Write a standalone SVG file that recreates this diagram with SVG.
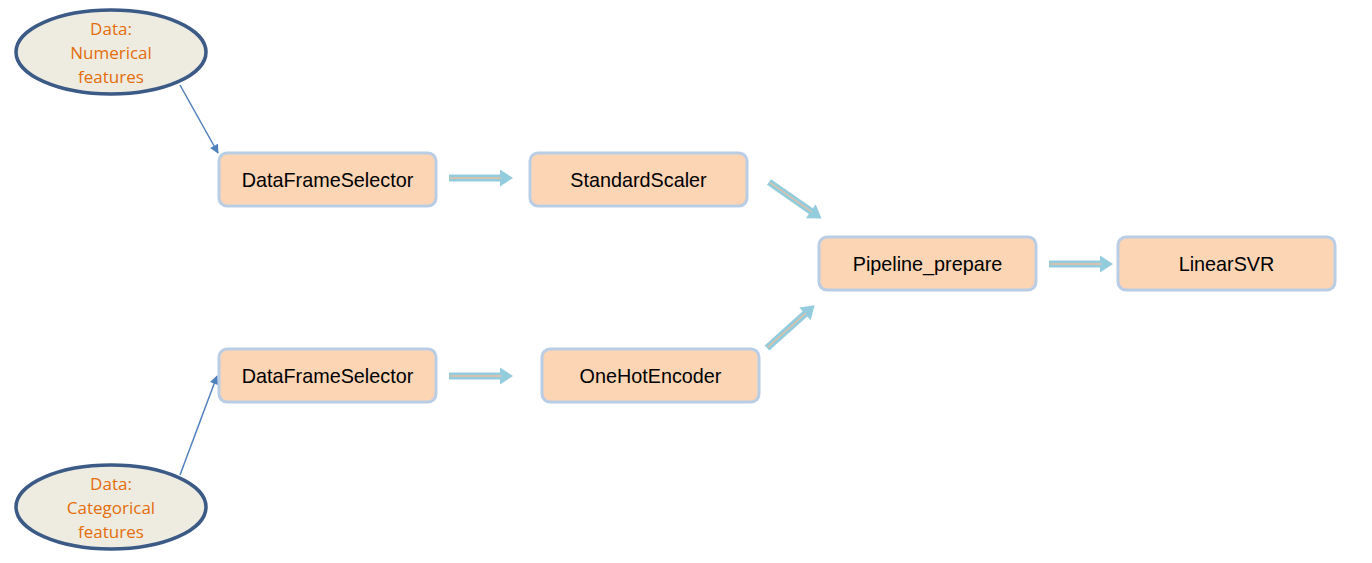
<svg xmlns="http://www.w3.org/2000/svg" xmlns:xlink="http://www.w3.org/1999/xlink" width="1372" height="563" viewBox="0 0 1372 563">
<style>
.box rect{fill:#fcd5b5;stroke:#b9cde5;stroke-width:3}
.box text{font-family:"Liberation Sans",Arial,sans-serif;font-size:19.8px;fill:#000;text-anchor:middle}
.data ellipse{fill:#eeece1;stroke:#3b5a86;stroke-width:3.5}
.data text{font-family:"Open Sans","Liberation Sans",sans-serif;font-size:17px;fill:#e46c0a;text-anchor:middle}
.thin{stroke:#4f81bd;stroke-width:1.5;fill:none;marker-end:url(#ah)}
</style>
<defs>
<marker id="ah" viewBox="0 0 10 10" refX="9" refY="5" markerWidth="10" markerHeight="9" markerUnits="userSpaceOnUse" orient="auto"><path d="M0,0L10,5L0,10z" fill="#4f81bd"/></marker>
<g id="ba">
<polygon points="0,-3.5 51,-3.5 51,-8.5 64,0 51,8.5 51,3.5 0,3.5" fill="#93cddd"/>
<line x1="1" y1="0" x2="52" y2="0" stroke="#e6bf9f" stroke-width="1.3"/>
</g>
</defs>
<rect width="1372" height="563" fill="#fff"/>
<g id="connectors">
<line class="thin" x1="180" y1="85" x2="218" y2="153"/>
<line class="thin" x1="180" y1="475" x2="217" y2="376"/>
<use xlink:href="#ba" transform="translate(449,178)"/>
<use xlink:href="#ba" transform="translate(449,376)"/>
<use xlink:href="#ba" transform="translate(769,182) rotate(34.9)"/>
<use xlink:href="#ba" transform="translate(767,348) rotate(-41.9)"/>
<use xlink:href="#ba" transform="translate(1049,264)"/>
</g>
<g id="data-num" class="data"><ellipse cx="111" cy="52" rx="95" ry="42"/>
<text x="111" y="35">Data:</text><text x="111" y="59">Numerical</text><text x="111" y="83">features</text></g>
<g id="data-cat" class="data"><ellipse cx="111" cy="507" rx="95" ry="42"/>
<text x="111" y="490">Data:</text><text x="111" y="514">Categorical</text><text x="111" y="538">features</text></g>
<g id="dfs1" class="box"><rect x="219" y="153" width="217" height="53" rx="8"/><text x="327.5" y="187">DataFrameSelector</text></g>
<g id="scaler" class="box"><rect x="530" y="153" width="217" height="53" rx="8"/><text x="638.5" y="187">StandardScaler</text></g>
<g id="dfs2" class="box"><rect x="219" y="349" width="217" height="53" rx="8"/><text x="327.5" y="383">DataFrameSelector</text></g>
<g id="onehot" class="box"><rect x="542" y="349" width="217" height="53" rx="8"/><text x="650.5" y="383">OneHotEncoder</text></g>
<g id="pipeline" class="box"><rect x="819" y="237" width="217" height="53" rx="8"/><text x="927.5" y="271">Pipeline_prepare</text></g>
<g id="svr" class="box"><rect x="1118" y="237" width="217" height="53" rx="8"/><text x="1226.5" y="271">LinearSVR</text></g>
</svg>
